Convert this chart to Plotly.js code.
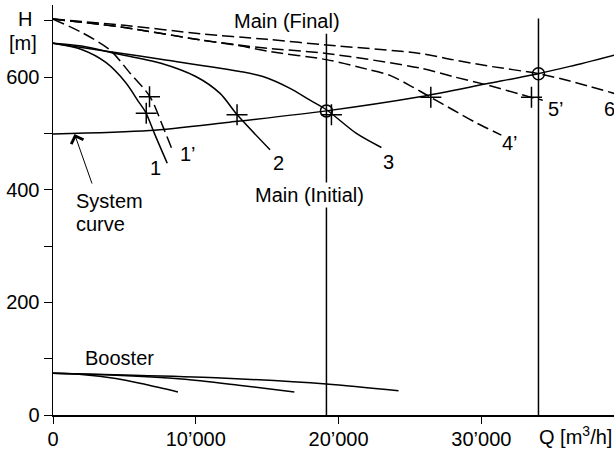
<!DOCTYPE html>
<html>
<head>
<meta charset="utf-8">
<script src="https://cdn.plot.ly/plotly-3.0.1.min.js"></script>
<style>html,body{margin:0;padding:0;background:#fff;}#chart{width:614px;height:449px;}</style>
</head>
<body>
<div id="chart"></div>
<script>
// Pump curves (Q in m3/h, H in m)
const q1 = [0, 2000, 3700, 5100, 6000, 6500, 7100, 8000];
const h1 = [660, 649, 626, 590, 556, 537, 500, 447];
const q1p = [0, 2100, 4000, 5400, 6800, 7700, 8300];
const h1p = [703, 678, 648, 607, 565, 512, 474];
const q2 = [0, 2000, 4400, 7500, 10000, 11700, 12900, 15200];
const h2 = [660, 655, 642, 625, 601, 571, 533, 471];
const q3 = [0, 4000, 8000, 13100, 14700, 16600, 18000, 19150, 21250, 23000];
const h3 = [660, 645, 630, 610, 601, 580, 559, 542, 500, 475];
const q4p = [0, 5000, 10300, 13000, 15000, 19150, 22000, 23600, 25000, 26460, 28000, 29700, 31400];
const h4p = [703, 688, 666, 656, 646, 631, 614, 603, 585, 564, 542, 518, 497];
const q5p = [0, 5000, 10300, 13000, 15000, 19150, 25700, 28000, 30400, 33500, 34300];
const h5p = [703, 688, 666, 657, 651, 642, 616, 601, 586, 564, 559];
const q6 = [0, 5000, 10300, 15000, 19150, 25700, 28000, 30400, 34000, 36200, 39300];
const h6 = [703, 692, 677, 667, 657, 642, 631, 620, 606, 593, 571];
// System curve
const qSys = [0, 6760, 12380, 19150, 25700, 30360, 33970, 36200, 39300];
const hSys = [499, 505, 520, 540, 565, 588, 606, 619, 639];
// Booster curves
const qB1 = [0, 2000, 4400, 6500, 8750];
const hB1 = [74, 72, 65, 54, 41];
const qB2 = [0, 4000, 9000, 13000, 16900];
const hB2 = [74, 71, 64, 53, 41];
const qB3 = [0, 5000, 11400, 19150, 24200];
const hB3 = [74, 71, 66, 55, 43];
// Main operating flows (vertical lines)
const opQ = [19150, 34000];
const opTop = [677, 704];
const opH = [540, 606];
// Marked points (+)
const crossQ = [6530, 6760, 12890, 19500, 26460, 33510];
const crossH = [536, 565, 533, 533, 564, 564];
// Curve labels
const curveLabels = ['1', '1\u2019', '2', '3', '4\u2019', '5\u2019', '6\u2019'];
const labelQ = [7180, 8730, 15820, 23530, 31290, 34560, 38420];
const labelH = [438, 463, 447, 450, 483, 543, 543];
// Axis ticks
const xTicks = [0, 10000, 20000, 30000];
const xTickText = ['0', '10\u2019000', '20\u2019000', '30\u2019000'];
const yTicks = [0, 100, 200, 300, 400, 500, 600, 700];
const yTickText = ['0', '', '200', '', '400', '', '600', ''];

const FONT = 'Liberation Sans, Arial, Helvetica, sans-serif';
const solid = {color: '#000', width: 1.5, shape: 'spline', smoothing: 0.8};
const dashed = {color: '#000', width: 1.5, dash: '12px,5px', shape: 'spline', smoothing: 0.8};

function line(x, y, style) {
  return {x: x, y: y, mode: 'lines', type: 'scatter', line: style, hoverinfo: 'skip'};
}

const traces = [
  line(q1, h1, solid), line(q1p, h1p, dashed), line(q2, h2, solid), line(q3, h3, solid),
  line(q4p, h4p, dashed), line(q5p, h5p, dashed), line(q6, h6, dashed),
  line(qSys, hSys, solid),
  line(qB1, hB1, solid), line(qB2, hB2, solid), line(qB3, hB3, solid)
];
opQ.forEach((q, i) => {
  traces.push({x: [q, q], y: [0, opTop[i]], mode: 'lines', type: 'scatter',
    line: {color: '#000', width: 1.5}, hoverinfo: 'skip'});
});
traces.push({x: opQ, y: opH, mode: 'markers', type: 'scatter',
  marker: {symbol: 'circle-open', size: 12, color: '#000', line: {width: 1.5, color: '#000'}}, hoverinfo: 'skip'});
traces.push({x: crossQ, y: crossH, mode: 'markers', type: 'scatter',
  marker: {symbol: 'cross-thin-open', size: 15, color: '#000', line: {width: 1.5, color: '#000'}}, hoverinfo: 'skip'});

const annotations = curveLabels.map((t, i) => ({
  x: labelQ[i], y: labelH[i], xref: 'x', yref: 'y', text: t, showarrow: false,
  xanchor: (t.length > 1 ? 'left' : 'center'), yanchor: 'middle',
  font: {family: FONT, size: 20, color: '#000'}
}));
annotations.push(
  {x: 16400, y: 700, xref: 'x', yref: 'y', text: 'Main (Final)', showarrow: false, xanchor: 'center', yanchor: 'middle', font: {family: FONT, size: 20, color: '#000'}},
  {x: 17950, y: 390, xref: 'x', yref: 'y', text: 'Main (Initial)', showarrow: false, xanchor: 'center', yanchor: 'middle', bgcolor: '#fff', borderpad: 1, font: {family: FONT, size: 20, color: '#000'}},
  {x: 1440, y: 380, xref: 'x', yref: 'y', text: 'System', showarrow: false, xanchor: 'left', yanchor: 'middle', font: {family: FONT, size: 20, color: '#000'}},
  {x: 1440, y: 340, xref: 'x', yref: 'y', text: 'curve', showarrow: false, xanchor: 'left', yanchor: 'middle', font: {family: FONT, size: 20, color: '#000'}},
  {x: 4660, y: 101, xref: 'x', yref: 'y', text: 'Booster', showarrow: false, xanchor: 'center', yanchor: 'middle', font: {family: FONT, size: 20, color: '#000'}},
  {x: 1507, y: 499, xref: 'x', yref: 'y', text: '', showarrow: true, ax: 18, ay: 51, arrowhead: 4, arrowsize: 2.5, arrowwidth: 1, arrowcolor: '#000'},
  {x: 0.862, y: -0.049, xref: 'paper', yref: 'paper', text: 'Q [m<sup>3</sup>/h]', showarrow: false, xanchor: 'left', yanchor: 'middle', font: {family: FONT, size: 20, color: '#000'}},
  {x: -0.05, y: 0.966, xref: 'paper', yref: 'paper', text: 'H', showarrow: false, xanchor: 'center', yanchor: 'middle', font: {family: FONT, size: 20, color: '#000'}},
  {x: -0.053, y: 0.9066, xref: 'paper', yref: 'paper', text: '[m]', showarrow: false, xanchor: 'center', yanchor: 'middle', font: {family: FONT, size: 20, color: '#000'}}
);

const layout = {
  width: 614, height: 449,
  margin: {l: 53, r: 0, t: 5, b: 34, pad: 0},
  paper_bgcolor: '#fff', plot_bgcolor: '#fff',
  showlegend: false,
  font: {family: FONT, size: 20, color: '#000'},
  xaxis: {range: [0, 39290], tickvals: xTicks, ticktext: xTickText, ticks: 'outside', ticklen: 7, tickwidth: 1,
    ticklabelstandoff: -2,
    tickcolor: '#000', showline: true, linecolor: '#000', linewidth: 1.5, showgrid: false, zeroline: false,
    tickfont: {family: FONT, size: 20, color: '#000'}, fixedrange: true},
  yaxis: {range: [0, 728], tickvals: yTicks, ticktext: yTickText, ticks: 'outside', ticklen: 8, tickwidth: 1,
    tickcolor: '#000', showline: true, linecolor: '#000', linewidth: 1.5, showgrid: false, zeroline: false,
    tickfont: {family: FONT, size: 20, color: '#000'}, fixedrange: true},
  annotations: annotations
};

Plotly.newPlot('chart', traces, layout, {displayModeBar: false, staticPlot: true});
</script>
</body>
</html>
